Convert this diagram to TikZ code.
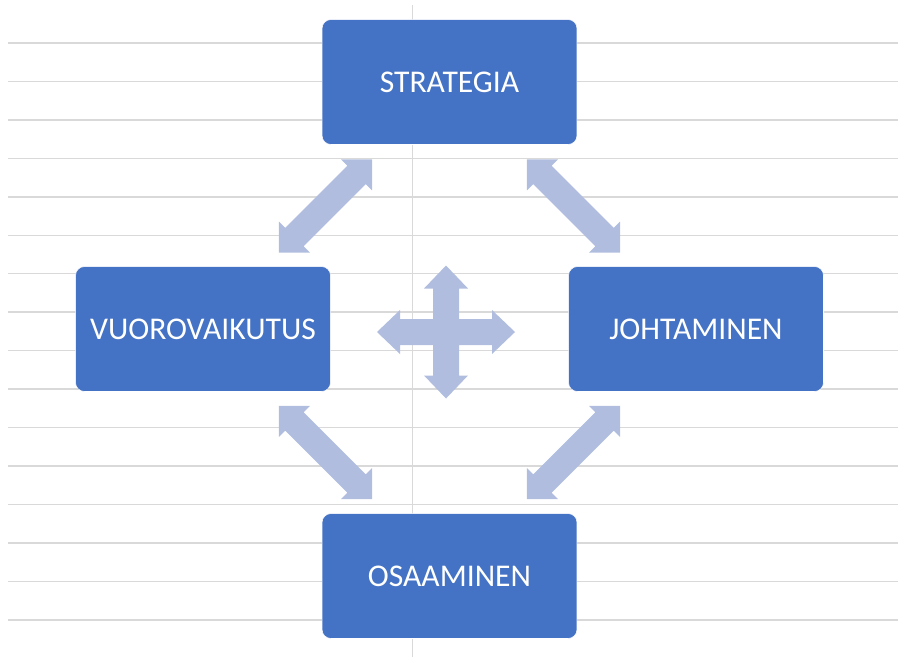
\documentclass[tikz,border=0pt]{standalone}
\usepackage{fontspec}
\setmainfont{Carlito}
\definecolor{boxblue}{HTML}{4472C4}
\definecolor{arrowfill}{RGB}{176,189,223}
\definecolor{gridgray}{HTML}{D9D9D9}
\tikzset{
  gridline/.style={draw=gridgray, line width=0.03cm},
  topicbox/.style={rectangle, rounded corners=0.18cm, fill=boxblue, draw=white,
    line width=0.3pt, text=white, font=\fontsize{18}{22}\selectfont,
    minimum width=5.1cm, minimum height=2.5cm, inner sep=0pt, outer sep=0pt},
  % double-headed block arrow, #1 = half length (px)
  dblarr/.pic={
    \fill[arrowfill] (-#1,0) -- (-#1+22,22) -- (-#1+22,13) -- (#1-22,13)
      -- (#1-22,22) -- (#1,0) -- (#1-22,-22) -- (#1-22,-13)
      -- (-#1+22,-13) -- (-#1+22,-22) -- cycle;
  },
  % four-way block arrow
  quadarr/.pic={
    \fill[arrowfill] (69,0) -- (46,22) -- (46,13) -- (13,13) -- (13,43.5)
      -- (22,43.5) -- (0,66.5) -- (-22,43.5) -- (-13,43.5) -- (-13,13)
      -- (-46,13) -- (-46,22) -- (-69,0) -- (-46,-22) -- (-46,-13)
      -- (-13,-13) -- (-13,-43.5) -- (-22,-43.5) -- (0,-66.5) -- (22,-43.5)
      -- (13,-43.5) -- (13,-13) -- (46,-13) -- (46,-22) -- cycle;
  }
}
\begin{document}
\begin{tikzpicture}[x=0.02cm, y=-0.02cm]
  \useasboundingbox (0,0) rectangle (898,657);
  % background ruling
  \foreach \k in {0,...,15}
    \draw[gridline] (8,{43+38.45*\k}) -- (898,{43+38.45*\k});
  \draw[gridline] (412.5,5) -- (412.5,657);

  % topic boxes
  \node[topicbox] (strat) at (449.5,82)  {STRATEGIA};
  \node[topicbox] (vuoro) at (203,329)   {VUOROVAIKUTUS};
  \node[topicbox] (joht)  at (696,329)   {JOHTAMINEN};
  \node[topicbox] (osaam) at (449.5,576) {OSAAMINEN};

  % arrow centres
  \coordinate (sv) at (325.5,206);
  \coordinate (sj) at (573.5,206);
  \coordinate (vo) at (325.5,452.5);
  \coordinate (jo) at (573.5,452.5);
  \coordinate (mid) at (446,332);

  \pic[rotate=45]  at (sv) {dblarr=66};
  \pic[rotate=-45] at (sj) {dblarr=66};
  \pic[rotate=-45] at (vo) {dblarr=66};
  \pic[rotate=45]  at (jo) {dblarr=66};
  \pic at (mid) {quadarr};
\end{tikzpicture}
\end{document}
